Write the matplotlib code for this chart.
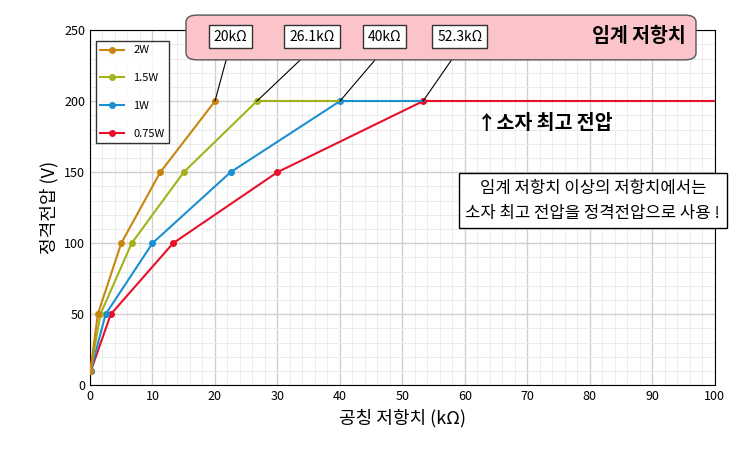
import matplotlib.pyplot as plt
from matplotlib.patches import FancyBboxPatch
import numpy as np

plt.rcParams['font.family'] = ['Noto Sans CJK JP', 'Noto Sans CJK KR', 'Noto Sans CJK SC', 'DejaVu Sans']

# resistance (kOhm) and voltage (V) for each power rating
r_2w = [0.05, 1.25, 5, 11.25, 20]
v_2w = [10, 50, 100, 150, 200]
r_15w = [0.07, 1.67, 6.67, 15, 26.7, 40]
v_15w = [10, 50, 100, 150, 200, 200]
r_1w = [0.1, 2.5, 10, 22.5, 40, 53.3]
v_1w = [10, 50, 100, 150, 200, 200]
r_075w = [0.13, 3.33, 13.3, 30, 53.3, 100]
v_075w = [10, 50, 100, 150, 200, 200]
crit_r = [20, 26.7, 40, 53.3]
crit_labels = ['20kΩ', '26.1kΩ', '40kΩ', '52.3kΩ']

fig = plt.figure(figsize=(7.5, 4.57), dpi=100)
ax = fig.add_axes([0.12, 0.157, 0.833, 0.777])

ax.plot(r_075w[:-1], v_075w[:-1], color='#e8102a', marker='o', ms=4, lw=1.5, label='0.75W', zorder=3)
ax.plot(r_075w[-2:], v_075w[-2:], color='#e8102a', lw=1.5, zorder=3)
ax.plot(r_1w[:-1], v_1w[:-1], color='#1a90d0', marker='o', ms=4, lw=1.5, label='1W', zorder=4)
ax.plot(r_1w[-2:], v_1w[-2:], color='#1a90d0', lw=1.5, zorder=4)
ax.plot(r_15w[:-1], v_15w[:-1], color='#a3b21a', marker='o', ms=4, lw=1.5, label='1.5W', zorder=5)
ax.plot(r_15w[-2:], v_15w[-2:], color='#a3b21a', lw=1.5, zorder=5)
ax.plot(r_2w, v_2w, color='#c8860e', marker='o', ms=4, lw=1.5, label='2W', zorder=6)

ax.set_xlim(0, 100)
ax.set_ylim(0, 250)
ax.set_xticks(np.arange(0, 101, 10))
ax.set_yticks(np.arange(0, 251, 50))
ax.set_xticks(np.arange(0, 101, 2), minor=True)
ax.set_yticks(np.arange(0, 251, 10), minor=True)
ax.grid(which='major', color='#d0d0d0', lw=1.0)
ax.grid(which='minor', color='#ececec', lw=0.7)
ax.tick_params(which='both', length=0, labelsize=9)
ax.set_xlabel('공칭 저항치 (kΩ)', fontsize=13)
ax.set_ylabel('정격전압 (V)', fontsize=13)

h, l = ax.get_legend_handles_labels()
leg = ax.legend(h[::-1], l[::-1], loc='upper left', fontsize=8, fancybox=False,
                edgecolor='black', labelspacing=1.6, handlelength=2.2,
                bbox_to_anchor=(0.0, 0.985))
leg.set_zorder(20)

# pink banner
banner = FancyBboxPatch((0.248, 0.869), 0.68, 0.098, boxstyle='round,pad=0,rounding_size=0.015',
                        transform=fig.transFigure, facecolor='#fbc4c8', edgecolor='#555555',
                        lw=1, zorder=10, clip_on=False)
fig.add_artist(banner)
fig.text(0.915, 0.92, '임계 저항치', fontsize=14, fontweight='bold', ha='right', va='center', zorder=12)

box_x = [0.307, 0.416, 0.513, 0.613]
for bx, r, lab in zip(box_x, crit_r, crit_labels):
    fig.text(bx, 0.92, lab, fontsize=10, ha='center', va='center', zorder=12,
             bbox=dict(facecolor='white', edgecolor='#333333', boxstyle='square,pad=0.35'))
    ax.annotate('', xy=(r, 200), xycoords='data', xytext=(bx - 0.002, 0.89),
                textcoords='figure fraction',
                arrowprops=dict(arrowstyle='-', color='black', lw=0.8, shrinkA=0, shrinkB=0), zorder=11)

ax.text(62, 184, '↑소자 최고 전압', fontsize=14, fontweight='bold', va='center')
ax.text(80.5, 130, '임계 저항치 이상의 저항치에서는\n소자 최고 전압을 정격전압으로 사용 !',
        fontsize=12, ha='center', va='center', linespacing=1.6,
        bbox=dict(facecolor='white', edgecolor='black', boxstyle='square,pad=0.4'))

fig.savefig('out.png', dpi=100)
